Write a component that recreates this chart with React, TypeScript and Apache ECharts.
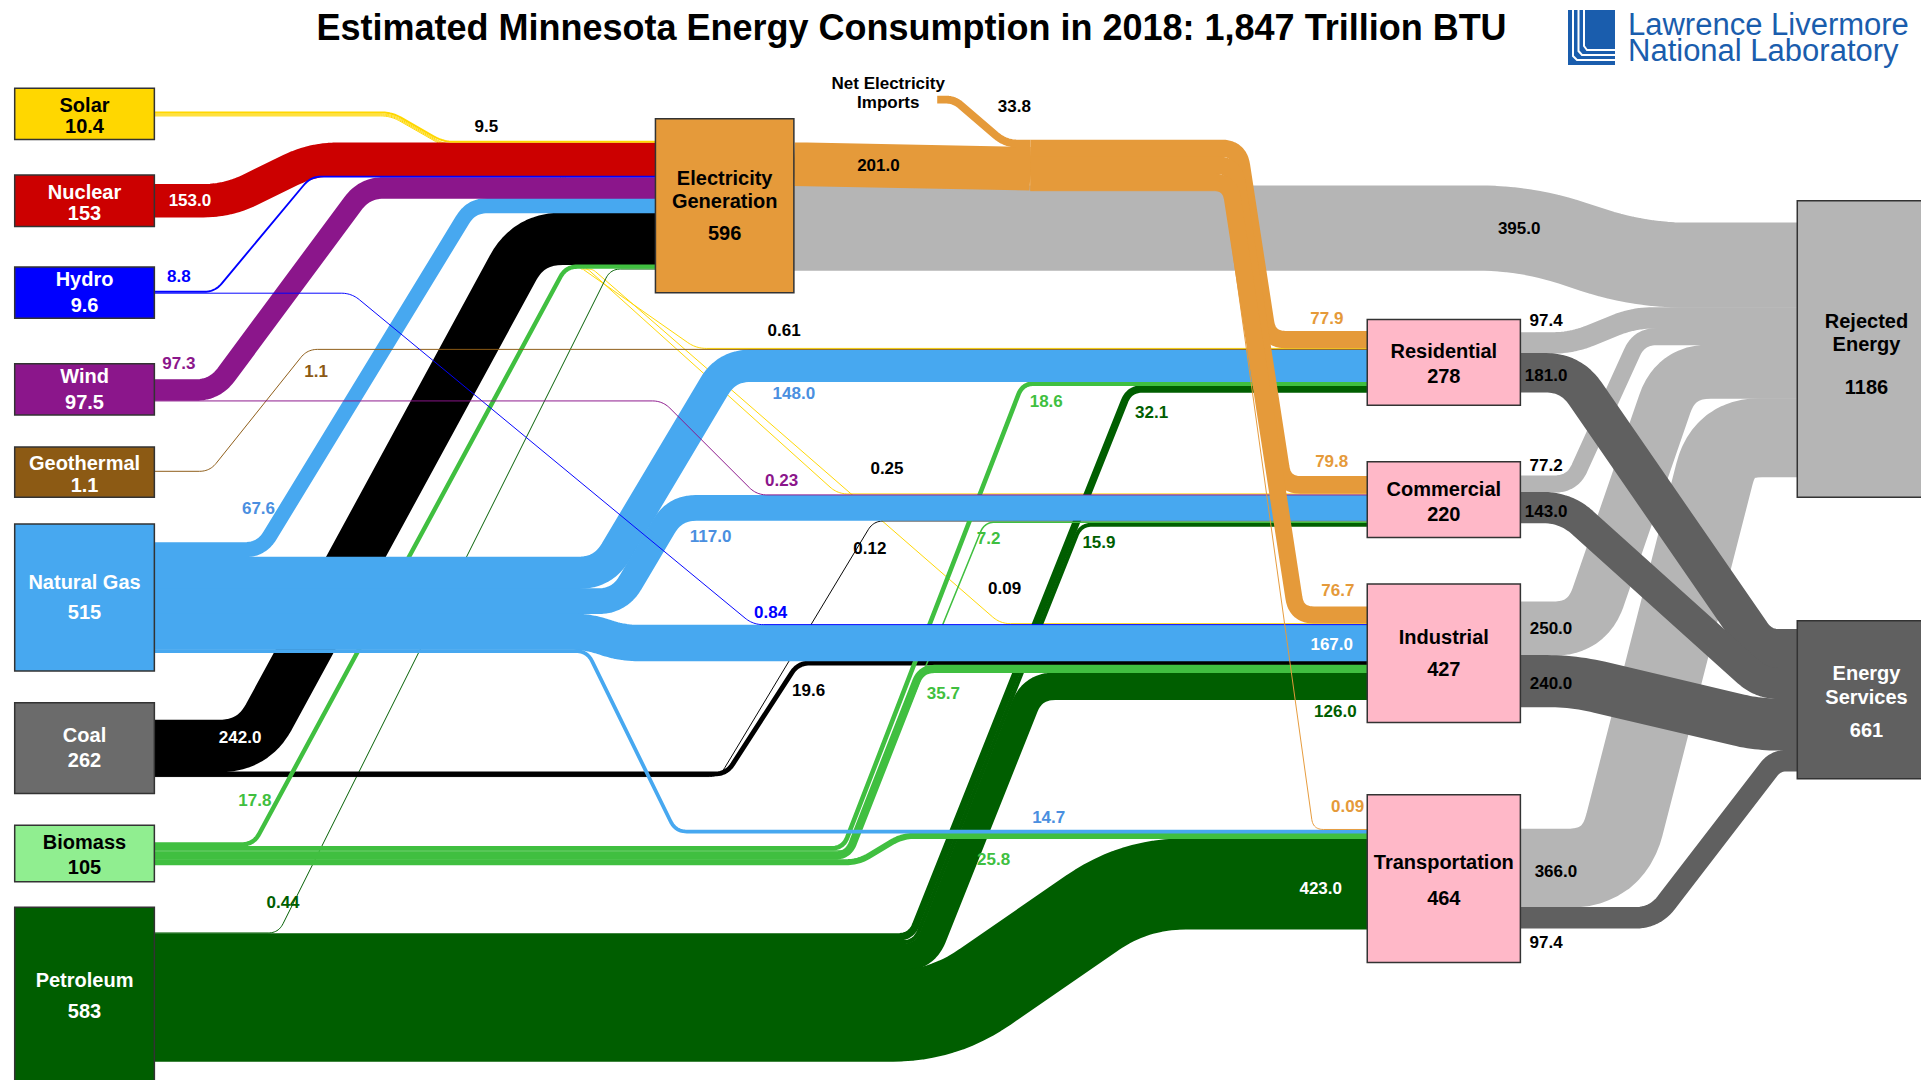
import React, { useEffect, useRef } from "react";
import * as echarts from "echarts";

// ================= DATA (trillion BTU) =================
const chartTitle = "Estimated Minnesota Energy Consumption in 2018: 1,847 Trillion BTU";
const logoLines = ["Lawrence Livermore", "National Laboratory"];

const nodeNames = [
  "Solar", "Nuclear", "Hydro", "Wind", "Geothermal", "Natural Gas", "Coal", "Biomass", "Petroleum",
  "Electricity Generation", "Net Electricity Imports", "Electricity",
  "Residential", "Commercial", "Industrial", "Transportation",
  "Rejected Energy", "Energy Services",
];
const nodeValues = [10.4, 153, 9.6, 97.5, 1.1, 515, 262, 105, 583, 596, 33.8, 234.8, 278, 220, 427, 464, 1186, 661];

const linkSources = [
  "Solar", "Solar", "Solar", "Solar", "Nuclear", "Hydro", "Hydro", "Wind", "Wind", "Geothermal",
  "Natural Gas", "Natural Gas", "Natural Gas", "Natural Gas", "Natural Gas",
  "Coal", "Coal", "Coal",
  "Biomass", "Biomass", "Biomass", "Biomass", "Biomass",
  "Petroleum", "Petroleum", "Petroleum", "Petroleum", "Petroleum",
  "Electricity Generation", "Net Electricity Imports",
  "Electricity", "Electricity", "Electricity", "Electricity",
  "Electricity Generation",
  "Residential", "Residential", "Commercial", "Commercial", "Industrial", "Industrial", "Transportation", "Transportation",
];
const linkTargets = [
  "Electricity Generation", "Residential", "Commercial", "Industrial", "Electricity Generation", "Electricity Generation", "Industrial", "Electricity Generation", "Commercial", "Residential",
  "Electricity Generation", "Residential", "Commercial", "Industrial", "Transportation",
  "Electricity Generation", "Industrial", "Commercial",
  "Electricity Generation", "Residential", "Commercial", "Industrial", "Transportation",
  "Electricity Generation", "Residential", "Commercial", "Industrial", "Transportation",
  "Electricity", "Electricity",
  "Residential", "Commercial", "Industrial", "Transportation",
  "Rejected Energy",
  "Rejected Energy", "Energy Services", "Rejected Energy", "Energy Services", "Rejected Energy", "Energy Services", "Rejected Energy", "Energy Services",
];
const linkValues = [
  9.5, 0.61, 0.25, 0.09, 153, 8.8, 0.84, 97.3, 0.23, 1.1,
  67.6, 148, 117, 167, 14.7,
  242, 19.6, 0.12,
  17.8, 18.6, 7.2, 35.7, 25.8,
  0.44, 32.1, 15.9, 126, 423,
  201, 33.8,
  77.9, 79.8, 76.7, 0.09,
  395,
  97.4, 181, 77.2, 143, 250, 240, 366, 97.4,
];

// ================= LAYOUT (frame of 1568 x 882 units) =================
const FRAME_W = 1568;
const FRAME_H = 882;
const UNIT = 0.175; // frame units per trillion BTU
const MIN_W = 0.8;
const FF = '"Liberation Sans", Arial, Helvetica, sans-serif';

const nodeBoxes: (number[] | null)[] = [
  [12, 72, 126, 114], [12, 143, 126, 185], [12, 218, 126, 260], [12, 297, 126, 339], [12, 365, 126, 406],
  [12, 428, 126, 548], [12, 574, 126, 648], [12, 674, 126, 720], [12, 741, 126, 900],
  [535, 97, 648, 239], null, null,
  [1116, 261, 1241, 331], [1116, 377, 1241, 439], [1116, 477, 1241, 590], [1116, 649, 1241, 786],
  [1467, 164, 1580, 406], [1467, 507, 1580, 636],
];
const nodeVirtualX: Record<number, number> = { 10: 765, 11: 841 };
const nodeFill = [
  "#FFD700", "#CC0000", "#0000FF", "#8B168B", "#8C5A14", "#47A8F0", "#6B6B6B", "#90EE90", "#005E00",
  "#E59A3A", "none", "none",
  "#FFB8C8", "#FFB8C8", "#FFB8C8", "#FFB8C8", "#B5B5B5", "#606060",
];
const nodeTextColor = [
  "#000", "#fff", "#fff", "#fff", "#fff", "#fff", "#fff", "#000", "#fff",
  "#000", "#000", "#000",
  "#000", "#000", "#000", "#000", "#000", "#fff",
];
const nodeLabelYs = [
  [86, 103], [157, 174], [228, 249], [307, 328], [378, 396], [475, 500], [600, 621], [688, 708], [800, 826],
  [145, 164, 190], [68, 84], [],
  [287, 307], [399, 420], [520, 546], [704, 733],
  [262, 281, 316], [550, 569, 596],
];
const nodeLabelX: Record<number, number> = { 10: 725 };
const nodeShowValue = [true, true, true, true, true, true, true, true, true, true, false, false, true, true, true, true, true, true];
const nodeFontSize = [20, 20, 20, 20, 20, 20, 20, 20, 20, 20, 17, 17, 20, 20, 20, 20, 20, 20];

const nodeOutTop = [91, 150.5, 237.5, 310, 384.5, 443, 588, 688, 761.5, 116.5, 78.4, 114.3, 271.5, 388.5, 491.5, 677, 0, 0];
const nodeInTop = [0, 0, 0, 0, 0, 0, 0, 0, 0, 115, 0, 114.3, 270.5, 389, 495.5, 677, 182, 514];
const inOrder: Record<number, number[]> = {
  9: [0, 4, 5, 7, 10, 15, 18, 23],
  11: [29, 28],
  12: [30, 1, 9, 11, 19, 24],
  13: [31, 2, 8, 12, 17, 20, 25],
  14: [32, 3, 6, 13, 16, 21, 26],
  15: [33, 14, 22, 27],
  16: [34, 35, 37, 39, 41],
  17: [36, 38, 40, 42],
};

// Each leg: reference top-edge line through (x, y) with slope m; off = perpendicular offset; lane = intermediate top y
const linkLegs: any[][] = [
  [{ x: 320, y: 91, m: 0.57 }],
  [{ x: 320, y: 91, m: 0.57, off: 1.7, lane: 117.6 }, { x: 452, y: 118, m: 4.5, lane: 219.5 }, { x: 476, y: 219.5, m: 0.7 }],
  [{ x: 320, y: 91, m: 0.57, off: 2.5, lane: 118.4 }, { x: 454, y: 118.4, m: 4.5, lane: 219.5 }, { x: 480, y: 219.5, m: 0.9 }],
  [{ x: 320, y: 91, m: 0.57, off: 3.3, lane: 119.2 }, { x: 456, y: 119.2, m: 4.5, lane: 219.5 }, { x: 484, y: 219.5, m: 0.87 }],
  [{ x: 183, y: 150.5, m: -0.49 }],
  [{ x: 175, y: 237.5, m: -1.2 }],
  [{ x: 287, y: 239, m: 0.826 }],
  [{ x: 171, y: 310, m: -1.35 }],
  [{ x: 541, y: 327, m: 1.0 }],
  [{ x: 171, y: 384.5, m: -1.25 }],
  [{ x: 210, y: 443, m: -1.64 }],
  [{ x: 485, y: 454.8, m: -1.68, off: 0 }],
  [{ x: 485, y: 454.8, m: -1.68, off: 25.9 }],
  [{ x: 483, y: 501.2, m: 0.35 }],
  [{ x: 480, y: 530.4, m: 2.04 }],
  [{ x: 194, y: 588, m: -1.84 }],
  [{ x: 592, y: 630.4, m: -1.55 }],
  [{ x: 587, y: 633.8, m: -1.66 }],
  [{ x: 206, y: 688, m: -1.85 }],
  [{ x: 757, y: 510, m: -2.59 }],
  [{ x: 797, y: 441, m: -2.45 }],
  [{ x: 690, y: 695.6, m: -2.55 }],
  [{ x: 700, y: 701.9, m: -0.6 }],
  [{ x: 227, y: 761.5, m: -2.0 }],
  [{ x: 843, y: 508, m: -2.51, off: 0 }],
  [{ x: 843, y: 508, m: -2.51, off: 5.62 }],
  [{ x: 843, y: 508, m: -2.51, off: 8.4 }],
  [{ x: 758, y: 792.75, m: -0.69 }],
  [{ x: 648, y: 116.5, m: 0.0192 }],
  [{ x: 780, y: 78.4, m: 0.86 }],
  [{ x: 1034.6, y: 228.5, m: 6.5, off: 0 }],
  [{ x: 1034.6, y: 228.5, m: 6.5, off: 5.75 }],
  [{ x: 1034.6, y: 228.5, m: 6.5, off: 11.5 }],
  [{ x: 1055, y: 553, m: 7.2 }],
  [{ x: 1251, y: 151.7, m: 0.326 }],
  [{ x: 1281.5, y: 271.5, m: -0.405 }],
  [{ x: 1304, y: 308, m: 1.45 }],
  [{ x: 1279, y: 388.5, m: -2.2 }],
  [{ x: 1294, y: 412, m: 0.9 }],
  [{ x: 1280, y: 491.5, m: -2.9 }],
  [{ x: 1287, y: 535.25, m: 0.236 }],
  [{ x: 1292, y: 677, m: -3.9 }],
  [{ x: 1346, y: 741.5, m: -1.3 }],
];

const C_SOLAR = "#FFD700", C_NUC = "#CC0000", C_HYD = "#0000FF", C_WIND = "#8B168B", C_GEO = "#8C5A14";
const C_NG = "#47A8F0", C_COAL = "#000000", C_BIO = "#40BF40", C_PET = "#005E00", C_ELEC = "#E59A3A";
const C_REJ = "#B5B5B5", C_SERV = "#606060";
const linkColors = [
  C_SOLAR, C_SOLAR, C_SOLAR, C_SOLAR, C_NUC, C_HYD, C_HYD, C_WIND, C_WIND, C_GEO,
  C_NG, C_NG, C_NG, C_NG, C_NG, C_COAL, C_COAL, C_COAL, C_BIO, C_BIO, C_BIO, C_BIO, C_BIO,
  C_PET, C_PET, C_PET, C_PET, C_PET, C_ELEC, C_ELEC, C_ELEC, C_ELEC, C_ELEC, C_ELEC,
  C_REJ, C_REJ, C_SERV, C_REJ, C_SERV, C_REJ, C_SERV, C_REJ, C_SERV,
];
const L_NG = "#4A8FE0", L_BIO = "#40BF40", L_PET = "#005E00", L_ORG = "#E59A3A";
const linkLabelPos = [
  [397, 103], [640, 270], [724, 383], [820, 481], [155, 164], [146, 226], [629, 500], [146, 297], [638, 392], [258, 303],
  [211, 415], [648, 321], [580, 438], [1087, 526], [856, 668],
  [196, 602], [660, 564], [710, 448],
  [208, 654], [854, 328], [807, 440], [770, 566], [811, 702],
  [231, 737], [940, 337], [897, 443], [1090, 581], [1078, 726],
  [717, 135], [828, 87],
  [1083, 260], [1087, 377], [1092, 482], [1100, 659],
  [1240, 187],
  [1262, 262], [1262, 307], [1262, 380], [1262, 418], [1266, 513], [1266, 558], [1270, 712], [1262, 770],
];
const linkLabelColor = [
  "#000", "#000", "#000", "#000", "#fff", "#0000FF", "#0000FF", C_WIND, C_WIND, C_GEO,
  L_NG, L_NG, L_NG, "#fff", L_NG,
  "#fff", "#000", "#000",
  L_BIO, L_BIO, L_BIO, L_BIO, L_BIO,
  L_PET, L_PET, L_PET, L_PET, "#fff",
  "#000", "#000",
  L_ORG, L_ORG, L_ORG, L_ORG,
  "#000",
  "#000", "#000", "#000", "#000", "#000", "#000", "#000", "#000",
];
const drawOrder = [
  1, 2, 3, 23, 24, 25, 26, 27, 15, 16, 17, 18, 19, 20, 21, 22, 10, 11, 12, 13, 14,
  4, 7, 5, 0, 9, 6, 8, 34, 28, 29, 30, 31, 32, 33, 35, 37, 39, 41, 36, 38, 40, 42,
];

// ================= GEOMETRY =================
const nodeIndex = (n: string) => nodeNames.indexOf(n);
const W = linkValues.map((v) => Math.max(v * UNIT, MIN_W));
const topS: number[] = [];
const topT: number[] = [];
(() => {
  const cur = nodeOutTop.slice();
  linkValues.forEach((_, i) => {
    const s = nodeIndex(linkSources[i]);
    topS[i] = cur[s];
    cur[s] += W[i];
  });
  Object.keys(inOrder).forEach((key) => {
    const n = Number(key);
    let c = nodeInTop[n];
    inOrder[n].forEach((i) => {
      topT[i] = c;
      c += W[i];
    });
  });
})();

const outX = (n: number) => (nodeBoxes[n] ? (nodeBoxes[n] as number[])[2] : nodeVirtualX[n]);
const inX = (n: number) => (nodeBoxes[n] ? (nodeBoxes[n] as number[])[0] : nodeVirtualX[n]);

function centerline(i: number): number[][] {
  const w = W[i];
  const s = nodeIndex(linkSources[i]);
  const t = nodeIndex(linkTargets[i]);
  const ys = topS[i] + w / 2;
  const yt = topT[i] + w / 2;
  const pts: number[][] = [[outX(s), ys]];
  let cur = ys;
  for (const leg of linkLegs[i]) {
    const k = Math.sqrt(1 + leg.m * leg.m);
    const c = ((leg.off || 0) + w / 2) * k;
    const next = leg.lane !== undefined ? leg.lane + w / 2 : yt;
    const xa = leg.x + (cur - leg.y - c) / leg.m;
    const xb = leg.x + (next - leg.y - c) / leg.m;
    pts.push([xa, cur], [xb, next]);
    cur = next;
  }
  pts.push([inX(t), yt]);
  return pts;
}

function fillet(raw: number[][], r: number): number[][] {
  const p: number[][] = [];
  for (const q of raw) {
    const l = p[p.length - 1];
    if (!l || Math.hypot(q[0] - l[0], q[1] - l[1]) > 0.05) p.push(q);
  }
  if (p.length < 3) return p;
  const out: number[][] = [p[0]];
  for (let i = 1; i < p.length - 1; i++) {
    const a = p[i - 1], b = p[i], c = p[i + 1];
    const d1 = Math.hypot(b[0] - a[0], b[1] - a[1]);
    const d2 = Math.hypot(c[0] - b[0], c[1] - b[1]);
    const rr = Math.min(r, d1 / 2, d2 / 2);
    const p1 = [b[0] + ((a[0] - b[0]) * rr) / d1, b[1] + ((a[1] - b[1]) * rr) / d1];
    const p2 = [b[0] + ((c[0] - b[0]) * rr) / d2, b[1] + ((c[1] - b[1]) * rr) / d2];
    const N = 12;
    for (let j = 0; j <= N; j++) {
      const t = j / N, u = 1 - t;
      out.push([u * u * p1[0] + 2 * u * t * b[0] + t * t * p2[0], u * u * p1[1] + 2 * u * t * b[1] + t * t * p2[1]]);
    }
  }
  out.push(p[p.length - 1]);
  return out;
}

const fmtLink = (v: number) => (v < 1 ? v.toFixed(2) : v.toFixed(1));
const fmtNode = (v: number) => (v >= 100 ? String(Math.round(v)) : v.toFixed(1));
const splitName = (name: string, n: number) => {
  if (n <= 1) return [name];
  const p = name.lastIndexOf(" ");
  return [name.slice(0, p), name.slice(p + 1)];
};

const txt = (x: number, y: number, text: string, fill: string, font: string, align = "center", extra: any = {}) => ({
  type: "text",
  x,
  y,
  silent: true,
  style: { text, fill, font, align, verticalAlign: "middle", textAlign: align, textVerticalAlign: "middle", ...extra },
});

export default function App() {
  const ref = useRef<HTMLDivElement>(null);
  useEffect(() => {
    const el = ref.current as HTMLDivElement;
    const chart = echarts.init(el, undefined, { renderer: "svg" });
    const k = el.clientWidth / FRAME_W;
    const rank: number[] = [];
    drawOrder.forEach((i, r) => (rank[i] = r));

    const renderLink = (_p: any, api: any) => {
      const i = api.value(0);
      const kx = api.size([1, 0])[0];
      const pts = fillet(centerline(i), 8 + 0.45 * W[i]).map((q) => api.coord(q));
      const lw = W[i] * kx + (W[i] > 2 ? 0.6 : 0);
      return {
        type: "polyline",
        silent: true,
        z2: rank[i],
        shape: { points: pts },
        style: { fill: "none", stroke: linkColors[i], lineWidth: lw, lineJoin: "round", lineCap: "butt" },
      };
    };

    const renderNode = (_p: any, api: any) => {
      const n = api.value(0);
      const children: any[] = [];
      const box = nodeBoxes[n];
      if (box) {
        const p0 = api.coord([box[0], box[1]]);
        const p1 = api.coord([box[2], box[3]]);
        children.push({
          type: "rect",
          silent: true,
          shape: { x: p0[0], y: p0[1], width: p1[0] - p0[0], height: p1[1] - p0[1] },
          style: { fill: nodeFill[n], stroke: "#333333", lineWidth: 1.5 },
        });
      }
      const ys = nodeLabelYs[n];
      if (ys.length) {
        const nameCount = ys.length - (nodeShowValue[n] ? 1 : 0);
        const lines = splitName(nodeNames[n], nameCount);
        if (nodeShowValue[n]) lines.push(fmtNode(nodeValues[n]));
        const cx = nodeLabelX[n] !== undefined ? nodeLabelX[n] : box ? (box[0] + box[2]) / 2 : 0;
        lines.forEach((line, j) => {
          const p = api.coord([cx, ys[j]]);
          children.push(txt(p[0], p[1], line, nodeTextColor[n], `bold ${nodeFontSize[n]}px ${FF}`));
        });
      }
      return { type: "group", children };
    };

    const renderLinkLabel = (_p: any, api: any) => {
      const i = api.value(0);
      const p = api.coord(linkLabelPos[i]);
      return txt(p[0], p[1], fmtLink(linkValues[i]), linkLabelColor[i], `bold 17px ${FF}`);
    };

    const logoBlue = "#1A5DAD";
    const option: any = {
      animation: false,
      backgroundColor: "#ffffff",
      grid: { left: 0, right: 0, top: 0, bottom: 0 },
      xAxis: { type: "value", min: 0, max: FRAME_W, show: false },
      yAxis: { type: "value", min: 0, max: FRAME_H, inverse: true, show: false },
      graphic: [
        {
          type: "text",
          x: 744 * k,
          y: 27,
          silent: true,
          style: { text: chartTitle, fill: "#000", font: `bold 36px ${FF}`, align: "center", verticalAlign: "middle", textAlign: "center", textVerticalAlign: "middle" },
        },
        { type: "rect", silent: true, shape: { x: 1568, y: 10, width: 47, height: 55 }, style: { fill: logoBlue } },
        { type: "polyline", silent: true, shape: { points: [[1573, 10], [1573, 56], [1577, 60], [1615, 60]] }, style: { stroke: "#fff", lineWidth: 2, fill: "none" } },
        { type: "polyline", silent: true, shape: { points: [[1578.5, 10], [1578.5, 51], [1582, 55], [1615, 55]] }, style: { stroke: "#fff", lineWidth: 2, fill: "none" } },
        { type: "polyline", silent: true, shape: { points: [[1584, 10], [1584, 46], [1587, 50], [1615, 50]] }, style: { stroke: "#fff", lineWidth: 2, fill: "none" } },
        {
          type: "text", x: 1628, y: 37, silent: true,
          style: {
            text: logoLines.join("\n"), fill: logoBlue, font: `31px ${FF}`, lineHeight: 26,
            align: "left", verticalAlign: "middle", textAlign: "left", textVerticalAlign: "middle",
          },
        },
      ],
      series: [
        {
          type: "custom",
          coordinateSystem: "cartesian2d",
          silent: true,
          clip: false,
          z: 1,
          renderItem: renderLink,
          data: drawOrder.map((i) => [i, 0]),
        },
        {
          type: "custom",
          coordinateSystem: "cartesian2d",
          silent: true,
          clip: false,
          z: 2,
          renderItem: renderNode,
          data: nodeNames.map((_, n) => [n, 0]),
        },
        {
          type: "custom",
          coordinateSystem: "cartesian2d",
          silent: true,
          clip: false,
          z: 3,
          renderItem: renderLinkLabel,
          data: linkValues.map((_, i) => [i, 0]),
        },
      ],
    };
    chart.setOption(option);
    return () => chart.dispose();
  }, []);
  return (
    <div
      ref={ref}
      style={{ position: "fixed", left: 0, top: 0, width: "1921px", height: "1080px", background: "#fff" }}
    />
  );
}
